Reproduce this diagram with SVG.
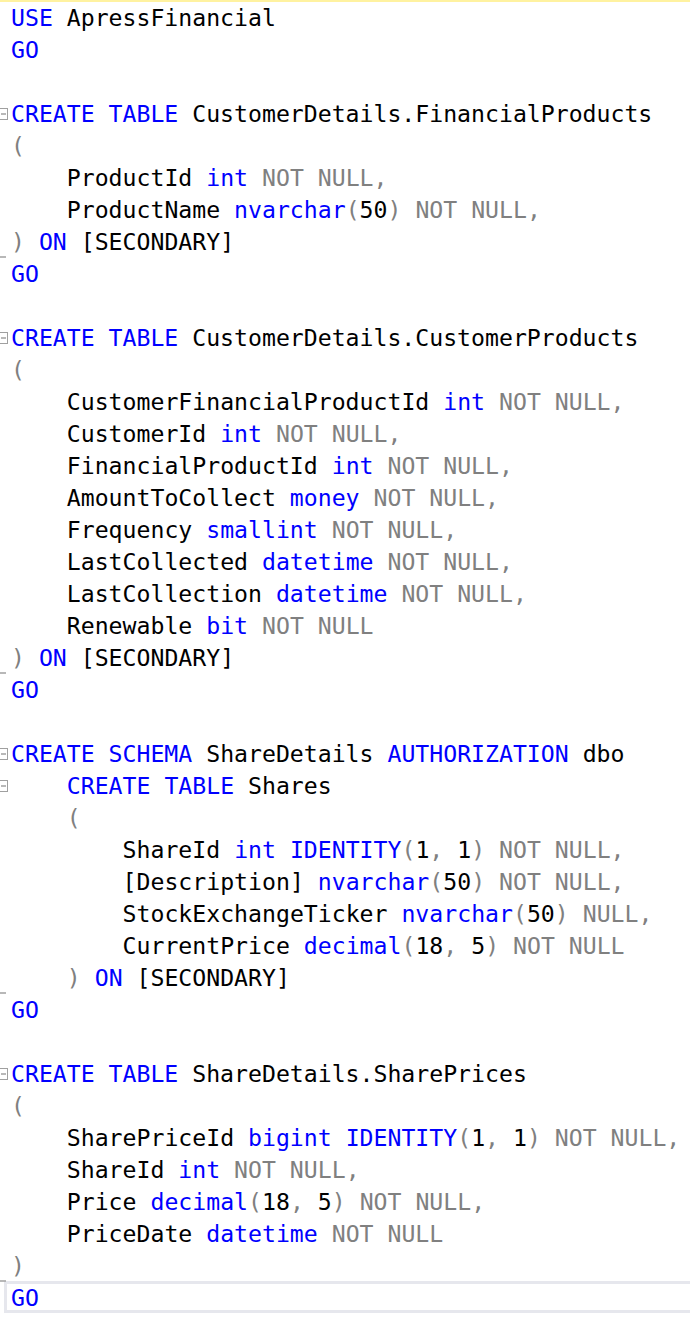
<svg xmlns="http://www.w3.org/2000/svg" width="690" height="1324" viewBox="0 0 690 1324">
<style>
text{font-family:"DejaVu Sans Mono","Liberation Mono",monospace;font-size:23.17px;fill:#000;white-space:pre}
.k{fill:#0000FF}
.g{fill:#808080}
.fold rect{fill:#fff;stroke:#A0A0A0;stroke-width:1}
.fold line,.end line{stroke:#A0A0A0;stroke-width:1.5}
</style>
<rect x="0" y="0" width="690" height="1324" fill="#fff"/>
<rect x="0" y="0" width="690" height="2" fill="#FFF2A0"/>
<rect id="current-line" x="5.5" y="1282.5" width="690" height="29" fill="none" stroke="#E6E7ED" stroke-width="3"/>
<g id="gutter">
<g class="fold"><rect x="-0.5" y="108.5" width="8" height="11"/><line x1="1" y1="114" x2="6" y2="114"/></g>
<g class="fold"><rect x="-0.5" y="332.5" width="8" height="11"/><line x1="1" y1="338" x2="6" y2="338"/></g>
<g class="fold"><rect x="-0.5" y="748.5" width="8" height="11"/><line x1="1" y1="754" x2="6" y2="754"/></g>
<g class="fold"><rect x="-0.5" y="780.5" width="8" height="11"/><line x1="1" y1="786" x2="6" y2="786"/></g>
<g class="fold"><rect x="-0.5" y="1068.5" width="8" height="11"/><line x1="1" y1="1074" x2="6" y2="1074"/></g>
<g class="end"><line x1="0" y1="257" x2="6" y2="257"/></g>
<g class="end"><line x1="0" y1="673" x2="6" y2="673"/></g>
<g class="end"><line x1="0" y1="993" x2="6" y2="993"/></g>
<g class="end"><line x1="0" y1="1281" x2="6" y2="1281"/></g>
</g>
<g id="code">
<text x="11" y="26"><tspan class="k">USE</tspan> ApressFinancial</text>
<text x="11" y="58"><tspan class="k">GO</tspan></text>

<text x="11" y="122"><tspan class="k">CREATE TABLE</tspan> CustomerDetails.FinancialProducts</text>
<text x="11" y="154"><tspan class="g">(</tspan></text>
<text x="66.8" y="186">ProductId <tspan class="k">int</tspan> <tspan class="g">NOT NULL,</tspan></text>
<text x="66.8" y="218">ProductName <tspan class="k">nvarchar</tspan><tspan class="g">(</tspan>50<tspan class="g">)</tspan> <tspan class="g">NOT NULL,</tspan></text>
<text x="11" y="250"><tspan class="g">)</tspan> <tspan class="k">ON</tspan> [SECONDARY]</text>
<text x="11" y="282"><tspan class="k">GO</tspan></text>

<text x="11" y="346"><tspan class="k">CREATE TABLE</tspan> CustomerDetails.CustomerProducts</text>
<text x="11" y="378"><tspan class="g">(</tspan></text>
<text x="66.8" y="410">CustomerFinancialProductId <tspan class="k">int</tspan> <tspan class="g">NOT NULL,</tspan></text>
<text x="66.8" y="442">CustomerId <tspan class="k">int</tspan> <tspan class="g">NOT NULL,</tspan></text>
<text x="66.8" y="474">FinancialProductId <tspan class="k">int</tspan> <tspan class="g">NOT NULL,</tspan></text>
<text x="66.8" y="506">AmountToCollect <tspan class="k">money</tspan> <tspan class="g">NOT NULL,</tspan></text>
<text x="66.8" y="538">Frequency <tspan class="k">smallint</tspan> <tspan class="g">NOT NULL,</tspan></text>
<text x="66.8" y="570">LastCollected <tspan class="k">datetime</tspan> <tspan class="g">NOT NULL,</tspan></text>
<text x="66.8" y="602">LastCollection <tspan class="k">datetime</tspan> <tspan class="g">NOT NULL,</tspan></text>
<text x="66.8" y="634">Renewable <tspan class="k">bit</tspan> <tspan class="g">NOT NULL</tspan></text>
<text x="11" y="666"><tspan class="g">)</tspan> <tspan class="k">ON</tspan> [SECONDARY]</text>
<text x="11" y="698"><tspan class="k">GO</tspan></text>

<text x="11" y="762"><tspan class="k">CREATE SCHEMA</tspan> ShareDetails <tspan class="k">AUTHORIZATION</tspan> dbo</text>
<text x="66.8" y="794"><tspan class="k">CREATE TABLE</tspan> Shares</text>
<text x="66.8" y="826"><tspan class="g">(</tspan></text>
<text x="122.6" y="858">ShareId <tspan class="k">int</tspan> <tspan class="k">IDENTITY</tspan><tspan class="g">(</tspan>1<tspan class="g">,</tspan> 1<tspan class="g">)</tspan> <tspan class="g">NOT NULL,</tspan></text>
<text x="122.6" y="890">[Description] <tspan class="k">nvarchar</tspan><tspan class="g">(</tspan>50<tspan class="g">)</tspan> <tspan class="g">NOT NULL,</tspan></text>
<text x="122.6" y="922">StockExchangeTicker <tspan class="k">nvarchar</tspan><tspan class="g">(</tspan>50<tspan class="g">)</tspan> <tspan class="g">NULL,</tspan></text>
<text x="122.6" y="954">CurrentPrice <tspan class="k">decimal</tspan><tspan class="g">(</tspan>18<tspan class="g">,</tspan> 5<tspan class="g">)</tspan> <tspan class="g">NOT NULL</tspan></text>
<text x="66.8" y="986"><tspan class="g">)</tspan> <tspan class="k">ON</tspan> [SECONDARY]</text>
<text x="11" y="1018"><tspan class="k">GO</tspan></text>

<text x="11" y="1082"><tspan class="k">CREATE TABLE</tspan> ShareDetails.SharePrices</text>
<text x="11" y="1114"><tspan class="g">(</tspan></text>
<text x="66.8" y="1146">SharePriceId <tspan class="k">bigint</tspan> <tspan class="k">IDENTITY</tspan><tspan class="g">(</tspan>1<tspan class="g">,</tspan> 1<tspan class="g">)</tspan> <tspan class="g">NOT NULL,</tspan></text>
<text x="66.8" y="1178">ShareId <tspan class="k">int</tspan> <tspan class="g">NOT NULL,</tspan></text>
<text x="66.8" y="1210">Price <tspan class="k">decimal</tspan><tspan class="g">(</tspan>18<tspan class="g">,</tspan> 5<tspan class="g">)</tspan> <tspan class="g">NOT NULL,</tspan></text>
<text x="66.8" y="1242">PriceDate <tspan class="k">datetime</tspan> <tspan class="g">NOT NULL</tspan></text>
<text x="11" y="1274"><tspan class="g">)</tspan></text>
<text x="11" y="1306"><tspan class="k">GO</tspan></text>
</g>
</svg>
